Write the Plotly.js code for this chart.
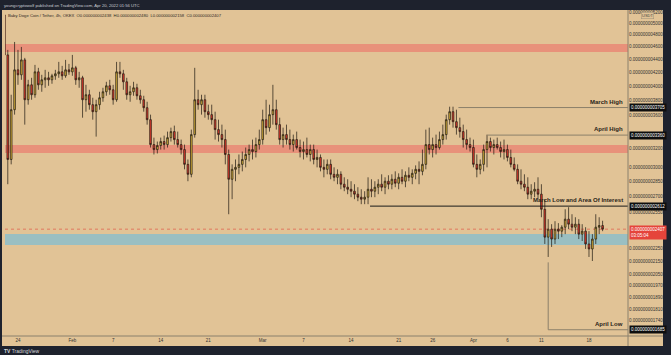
<!DOCTYPE html>
<html><head><meta charset="utf-8">
<script src="https://cdn.plot.ly/plotly-3.0.1.min.js"></script>
<style>html,body{margin:0;padding:0;background:#e1c396;overflow:hidden}#chart{width:671px;height:355px}</style>
</head><body><div id="chart"></div>
<script>
// Prices are in units of 1e-12 USDT (e.g. 2407 = 0.000000002407). Candles every 12h from 2022-01-22 00:00 UTC.
const startUTC = Date.UTC(2022, 0, 22, 0, 0);
const stepHours = 12;
const open = [5145,4465,3082,3677,4235,4161,4387,3809,4016,3877,
4205,4016,4088,4117,4088,4146,4176,4205,4146,4235,
4205,4265,4088,4117,3809,3877,3743,3651,3743,3836,
3918,4002,3946,3809,4205,4176,4059,3877,3918,3974,
3863,3809,3703,3549,3249,3192,3238,3284,3249,3330,
3402,3307,3249,3192,3029,2924,3366,3809,3743,3809,
3651,3613,3549,3426,3366,3307,3137,2873,2976,2997,
3029,3082,3137,3192,3170,3249,3307,3549,3450,3613,
3677,3487,3307,3366,3307,3249,3307,3215,3170,3192,
3137,3192,3082,3104,2997,2976,3029,2924,2893,2924,
2823,2793,2773,2754,2725,2696,2677,2696,2773,2754,
2793,2823,2793,2853,2823,2873,2833,2893,2853,2914,
2893,2934,2976,2955,3029,3249,3192,3249,3215,3307,
3366,3549,3651,3524,3450,3402,3307,3249,3215,3029,
2976,3029,3192,3284,3215,3249,3215,3170,3192,3104,
3029,2976,2853,2823,2793,2725,2754,2773,2725,2583,
2340,2407,2324,2407,2390,2424,2494,2450,2424,2450,
2365,2390,2284,2244,2324,2424,2438];
const high = [5199,4545,3877,4675,4545,4593,4418,4088,4117,4310,
4265,4161,4235,4205,4176,4235,4356,4295,4387,4325,
4465,4295,4205,4146,4016,3946,3836,3809,3918,3974,
4059,4088,4016,4356,4356,4235,4117,4002,4059,4031,
3946,3863,3782,3613,3330,3284,3330,3354,3402,3450,
3475,3402,3307,3249,3082,3426,4265,3946,3877,3877,
3743,3743,3651,3549,3487,3426,3192,3029,3082,3137,
3170,3215,3249,3307,3330,3426,3677,3809,3743,4016,
3809,3574,3450,3487,3426,3366,3402,3307,3284,3330,
3249,3249,3192,3137,3082,3082,3082,2997,2976,2955,
2893,2873,2853,2823,2793,2773,2754,2893,2873,2853,
2873,2924,2893,2914,2924,2955,2934,2976,2955,2997,
2976,3018,3061,3192,3426,3450,3330,3366,3402,3487,
3613,3716,3716,3677,3574,3487,3426,3330,3307,3137,
3082,3249,3366,3330,3307,3330,3284,3307,3249,3192,
3104,3029,2976,2924,2893,2823,2843,2893,2823,2677,
2494,2450,2476,2459,2441,2583,2602,2538,2511,2494,
2450,2424,2390,2365,2538,2511,2480];
const low = [4387,2823,3029,3613,4016,4088,3487,3743,3809,3836,
3946,3918,3974,4002,4031,4088,4117,4088,4117,4161,
4146,4016,3974,3574,3651,3677,3549,3342,3677,3782,
3863,3877,3743,3782,4117,3946,3809,3782,3863,3809,
3756,3651,3487,3215,3137,3148,3192,3192,3215,3284,
3249,3215,3137,2976,2853,2893,3330,3677,3613,3574,
3549,3487,3307,3284,3215,3029,2538,2677,2853,2924,
2955,2997,3061,3082,3104,3192,3249,3366,3402,3487,
3426,3249,3215,3249,3192,3170,3192,3104,3082,3104,
3061,3029,2997,2955,2893,2924,2873,2853,2823,2773,
2754,2725,2696,2677,2658,2630,2630,2630,2696,2696,
2725,2754,2725,2773,2773,2793,2773,2823,2793,2853,
2823,2873,2823,2914,2976,3137,3104,3137,3192,3249,
3307,3487,3450,3366,3330,3215,3192,3170,2997,2893,
2924,2955,2997,3170,3137,3192,3104,3082,3061,2997,
2955,2823,2773,2754,2677,2677,2696,2677,2511,2284,
2181,2260,2284,2324,2340,2365,2407,2390,2365,2324,
2308,2244,2181,2150,2284,2365,2390];
const close = [4465,3082,3677,4235,4161,4387,3809,4016,3877,4205,
4016,4088,4117,4088,4146,4176,4205,4146,4235,4205,
4265,4088,4117,3809,3877,3743,3651,3743,3836,3918,
4002,3946,3809,4205,4176,4059,3877,3918,3974,3863,
3809,3703,3549,3249,3192,3238,3284,3249,3330,3402,
3307,3249,3192,3029,2924,3366,3809,3743,3809,3651,
3613,3549,3426,3366,3307,3137,2873,2976,2997,3029,
3082,3137,3192,3170,3249,3307,3549,3450,3613,3677,
3487,3307,3366,3307,3249,3307,3215,3170,3192,3137,
3192,3082,3104,2997,2976,3029,2924,2893,2924,2823,
2793,2773,2754,2725,2696,2677,2696,2773,2754,2793,
2823,2793,2853,2823,2873,2833,2893,2853,2914,2893,
2934,2976,2955,3029,3249,3192,3249,3215,3307,3366,
3549,3651,3524,3450,3402,3307,3249,3215,3029,2976,
3029,3192,3284,3215,3249,3215,3170,3192,3104,3029,
2976,2853,2823,2793,2725,2754,2773,2725,2583,2340,
2407,2324,2407,2390,2424,2494,2450,2424,2450,2365,
2390,2284,2244,2324,2424,2438,2407];

// Axis ticks
const xTickDates = ['2022-01-24','2022-02-01','2022-02-07','2022-02-14','2022-02-21','2022-03-01','2022-03-07','2022-03-14','2022-03-21','2022-03-26','2022-04-01','2022-04-06','2022-04-11','2022-04-18'];
const xTickLabels = ['24','Feb','7','14','21','Mar','7','14','21','26','Apr','6','11','18'];
const yTickValues = [5200,5000,4800,4600,4400,4200,4000,3800,3600,3200,3000,2850,2700,2550,2250,2150,2050,1970,1890,1810,1740];

// Marked levels
const levelNames = ['March High','April High','March Low and Area Of Interest','April Low'];
const levelValues = [3705, 3360, 2612, 1685];
const levelStarts = ['2022-03-29 19:00','2022-04-03 02:00','2022-03-16 19:00','2022-04-12 00:00'];
const levelColors = ['#8c806a','#8c806a','#1a1a1a','#8c806a'];
const aprilLowFrom = 2140;
// Zones
const zoneLows = [4511, 3153, 2276];
const zoneHighs = [4641, 3244, 2366];
const zoneColors = ['#e8917a','#e8917a','#9abfc2'];
const lastPrice = 2407;
const headerText = 'Baby Doge Coin / Tether, 4h, OKEX  O0.000000002438  H0.000000002480  L0.000000002158  C0.000000002407';

const fmt = v => '0.00000000' + String(v).padStart(4,'0');
const dates = close.map((_, i) => new Date(startUTC + i*stepHours*3600e3).toISOString().slice(0,16).replace('T',' '));

const W = 623, H = 326; // plot area px
const shapes = [];
zoneLows.forEach((lo,i)=>shapes.push({type:'rect',xref:'paper',x0:0,x1:1,yref:'y',y0:lo,y1:zoneHighs[i],fillcolor:zoneColors[i],line:{width:0},layer:'below'}));
shapes.push({type:'line',xref:'paper',x0:0,x1:1,yref:'y',y0:lastPrice,y1:lastPrice,line:{color:'rgba(225,70,60,0.6)',width:1,dash:'dot'},layer:'below'});
levelValues.forEach((v,i)=>shapes.push({type:'line',xref:'x',x0:levelStarts[i],x1:'2022-04-23 17:45',yref:'y',y0:v,y1:v,line:{color:levelColors[i],width:1}}));
shapes.push({type:'line',xref:'x',x0:levelStarts[3],x1:levelStarts[3],yref:'y',y0:aprilLowFrom,y1:levelValues[3],line:{color:'#8c806a',width:1}});
// frame
shapes.push({type:'rect',xref:'paper',yref:'paper',x0:-5/W,x1:666/W,y0:1,y1:1+10/H,fillcolor:'#1e222d',line:{width:0}});
shapes.push({type:'rect',xref:'paper',yref:'paper',x0:-5/W,x1:666/W,y0:-19/H,y1:-10/H,fillcolor:'#1e222d',line:{width:0}});
shapes.push({type:'rect',xref:'paper',yref:'paper',x0:-5/W,x1:-3/W,y0:-19/H,y1:1+10/H,fillcolor:'#1e222d',line:{width:0}});
shapes.push({type:'rect',xref:'paper',yref:'paper',x0:(663-5)/W,x1:666/W,y0:-19/H,y1:1+10/H,fillcolor:'#1e222d',line:{width:0}});
shapes.push({type:'line',xref:'paper',yref:'paper',x0:1,x1:1,y0:-10/H,y1:1,line:{color:'#8a806c',width:1}});
shapes.push({type:'line',xref:'paper',yref:'paper',x0:-3/W,x1:(663-5)/W,y0:0,y1:0,line:{color:'#8a806c',width:1}});

const annotations = [];
levelNames.forEach((n,i)=>annotations.push({xref:'paper',x:0.995,xanchor:'right',yref:'y',y:Math.log10(levelValues[i]),yanchor:'bottom',yshift:1,text:'<b>'+n+'</b>',showarrow:false,font:{size:6,color:'#2a2418',family:'Liberation Sans, Arial'}}));
levelValues.forEach(v=>annotations.push({xref:'paper',x:1,xanchor:'left',xshift:1,yref:'y',y:Math.log10(v),yanchor:'middle',text:fmt(v),showarrow:false,bgcolor:'#0e0e0e',borderpad:1,font:{size:4.5,color:'#ffffff',family:'Liberation Sans, Arial'}}));
annotations.push({xref:'paper',x:1,xanchor:'left',xshift:1,yref:'y',y:Math.log10(lastPrice),yanchor:'top',yshift:4,text:fmt(lastPrice)+'<br>03:05:04',showarrow:false,bgcolor:'#e5443b',borderpad:1,align:'left',font:{size:4.5,color:'#ffffff',family:'Liberation Sans, Arial'}});
annotations.push({xref:'paper',x:1,xanchor:'left',xshift:13,yref:'paper',y:1,yanchor:'top',yshift:-2,text:'USDT',showarrow:false,bgcolor:'#e1c396',bordercolor:'#9a8f78',borderwidth:0.5,borderpad:0.5,font:{size:4,color:'#444'}});
annotations.push({xref:'paper',x:-3/W,xanchor:'left',yref:'paper',y:1+5/H,yanchor:'middle',text:'youngcryptowolf published on TradingView.com, Apr 20, 2022 01:56 UTC',showarrow:false,font:{size:4.2,color:'#c9cbd1',family:'Liberation Sans, Arial'}});
annotations.push({xref:'paper',x:1/W,xanchor:'left',yref:'paper',y:1-5/H,yanchor:'middle',text:headerText,showarrow:false,font:{size:4.2,color:'#2d2a25',family:'Liberation Sans, Arial'}});
annotations.push({xref:'paper',x:-3/W,xanchor:'left',yref:'paper',y:-15/H,yanchor:'middle',text:'<b>TV</b> TradingView',showarrow:false,font:{size:5,color:'#d6d8de',family:'Liberation Sans, Arial'}});

const trace = {type:'candlestick',x:dates,open,high,low,close,
  increasing:{line:{color:'#1d1710',width:0.7},fillcolor:'#d8b13a'},
  decreasing:{line:{color:'#1d1710',width:0.7},fillcolor:'#e53b2d'},
  whiskerwidth:0,hoverinfo:'none',showlegend:false};

const layout = {
  width:671,height:355,margin:{l:5,r:43,t:10,b:19},
  paper_bgcolor:'#e1c396',plot_bgcolor:'#e1c396',showlegend:false,
  font:{family:'Liberation Sans, Arial',color:'#333'},
  xaxis:{type:'date',range:['2022-01-22 02:10','2022-04-23 17:45'],tickvals:xTickDates,ticktext:xTickLabels,
    showgrid:false,zeroline:false,ticks:'',tickfont:{size:4.5,color:'#333'},rangeslider:{visible:false},fixedrange:true},
  yaxis:{type:'log',side:'right',range:[Math.log10(1648),Math.log10(5236)],tickvals:yTickValues,ticktext:yTickValues.map(fmt),
    showgrid:false,zeroline:false,ticks:'',tickfont:{size:4.5,color:'#333'},fixedrange:true},
  shapes,annotations
};
Plotly.newPlot('chart',[trace],layout,{staticPlot:true,displayModeBar:false});
</script></body></html>
